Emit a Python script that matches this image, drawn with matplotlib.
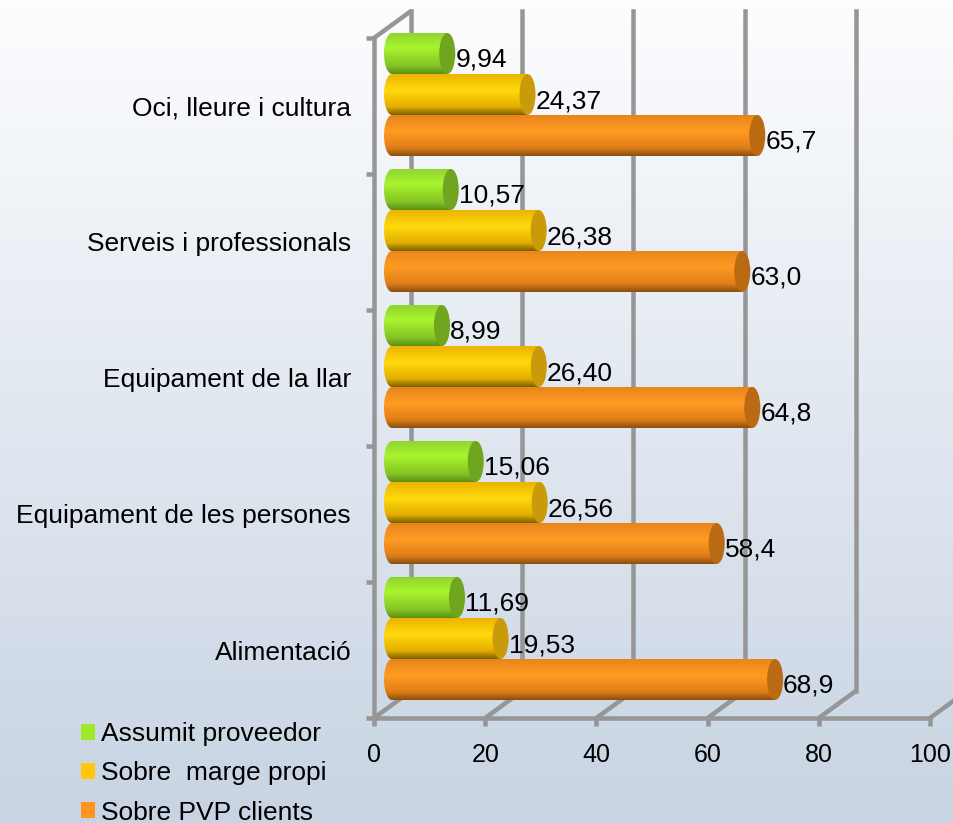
import matplotlib
matplotlib.use('Agg')
import matplotlib.pyplot as plt
import numpy as np
from matplotlib.colors import LinearSegmentedColormap
from matplotlib.patches import Ellipse, Polygon, Patch

plt.rcParams['font.family'] = ['Liberation Sans', 'DejaVu Sans']

categories = ['Alimentació', 'Equipament de les persones', 'Equipament de la llar',
              'Serveis i professionals', 'Oci, lleure i cultura']
series_names = ['Assumit proveedor', 'Sobre  marge propi', 'Sobre PVP clients']
proveedor = [11.69, 15.06, 8.99, 10.57, 9.94]
marge = [19.53, 26.56, 26.40, 26.38, 24.37]
pvp = [68.9, 58.4, 64.8, 63.0, 65.7]
proveedor_labels = ['11,69', '15,06', '8,99', '10,57', '9,94']
marge_labels = ['19,53', '26,56', '26,40', '26,38', '24,37']
pvp_labels = ['68,9', '58,4', '64,8', '63,0', '65,7']
xticks = [0, 20, 40, 60, 80, 100]

W, H = 954, 823
GREY = '#969696'
# px per unit, axes box is 374..930 / 38..718
PX_X = (930 - 374) / 100
PX_Y = 680 / 5

fig = plt.figure(figsize=(W / 100, H / 100), dpi=100)

bg = fig.add_axes([0, 0, 1, 1], zorder=0)
bg_cmap = LinearSegmentedColormap.from_list('bg', [(0, '#fcfdfe'), (0.12, '#f6f8fb'), (0.55, '#dfe6ef'), (1, '#c8d4e3')])
bg.imshow(np.linspace(0, 1, 256).reshape(-1, 1), cmap=bg_cmap, aspect='auto', extent=(0, 1, 0, 1))
bg.axis('off')

ax = fig.add_axes([374 / W, 1 - 718 / H, 556 / W, 680 / H], zorder=1)
ax.patch.set_alpha(0)
ax.set_xlim(0, 100)
ax.set_ylim(-0.5, 4.5)


def cylinder(y, value, stops, cap_col):
    h = 41 / PX_Y
    x0 = 18 / PX_X
    r = 8 / PX_X
    x1 = x0 + value
    cmap = LinearSegmentedColormap.from_list('c', stops)
    im = ax.imshow(np.linspace(0, 1, 128).reshape(-1, 1), cmap=cmap, aspect='auto',
                   extent=(x0 - r, x1, y - h / 2, y + h / 2), origin='upper', zorder=3)
    t = np.linspace(np.pi / 2, 3 * np.pi / 2, 40)
    left = np.column_stack([x0 + r * np.cos(t), y + h / 2 * np.sin(t)])
    right = np.array([[x1, y - h / 2], [x1, y + h / 2]])
    clip = Polygon(np.vstack([left, right]), closed=True, transform=ax.transData, fill=False, lw=0)
    ax.add_patch(clip)
    im.set_clip_box(fig.bbox)
    im.set_clip_path(clip)
    ax.add_patch(Ellipse((x1, y), 2 * r, h, facecolor=cap_col, edgecolor='none', zorder=4, clip_on=False))


green = [(0, '#90d430'), (0.35, '#a8f52e'), (0.8, '#84c426'), (1, '#5c8f18')]
yellow = [(0, '#ecb400'), (0.4, '#ffd90c'), (0.8, '#e4ae00'), (1, '#7d5f00')]
orange = [(0, '#e8861c'), (0.4, '#ff9a22'), (0.8, '#e07f18'), (1, '#8a4e10')]

shift = 11.5 / PX_Y
step = 41 / PX_Y
for i in range(len(categories)):
    yc = i + shift
    cylinder(yc + step, proveedor[i], green, '#6fa51f')
    cylinder(yc, marge[i], yellow, '#c99a0a')
    cylinder(yc - step, pvp[i], orange, '#b96a12')
    for yy, v, s in [(yc + step, proveedor[i], proveedor_labels[i]),
                     (yc, marge[i], marge_labels[i]),
                     (yc - step, pvp[i], pvp_labels[i])]:
        ax.annotate(s, (v, yy), xytext=(26 / 100 * 72, -6.5 / 100 * 72), textcoords='offset points',
                    fontsize=19, color='black', ha='left', va='center', zorder=6)

ax.set_xlim(0, 100)
ax.set_ylim(-0.5, 4.5)

# fake 3d walls
dx = 37 / PX_X
dy = 27 / PX_Y
lw = 4.5 * 72 / 100
for t in xticks:
    ax.plot([t, t + dx], [-0.5, -0.5 + dy], color=GREY, lw=lw, clip_on=False, zorder=1, solid_capstyle='butt')
    ax.plot([t + dx, t + dx], [-0.5 + dy, 4.5 + dy], color=GREY, lw=lw, clip_on=False, zorder=1)
ax.plot([0, dx], [4.5, 4.5 + dy], color=GREY, lw=lw, clip_on=False, zorder=1, solid_capstyle='butt')

for s in ['top', 'right']:
    ax.spines[s].set_visible(False)
for s in ['left', 'bottom']:
    ax.spines[s].set_color(GREY)
    ax.spines[s].set_linewidth(lw)

ax.set_xticks(xticks)
ax.set_xticklabels([str(t) for t in xticks])
ax.set_yticks(range(len(categories)))
ax.set_yticklabels(categories)
ax.set_yticks(np.arange(-0.5, 5), minor=True)
ax.tick_params(axis='y', which='major', length=0, pad=16.5, labelsize=19)
ax.tick_params(axis='y', which='minor', length=5.5, width=lw, color=GREY)
ax.tick_params(axis='x', length=5.5, width=lw, color=GREY, pad=12.5, labelsize=18)

handles = [Patch(facecolor=c, edgecolor='none') for c in ['#a0e82a', '#ffc60a', '#ff9420']]
fig.legend(handles, series_names, loc='upper left', bbox_to_anchor=(73 / W, 1 - 714 / H), frameon=False,
           fontsize=19, handlelength=0.55, handleheight=0.55, handletextpad=0.2, labelspacing=0.58,
           borderpad=0.3, borderaxespad=0)

fig.savefig('out.png', dpi=100)
